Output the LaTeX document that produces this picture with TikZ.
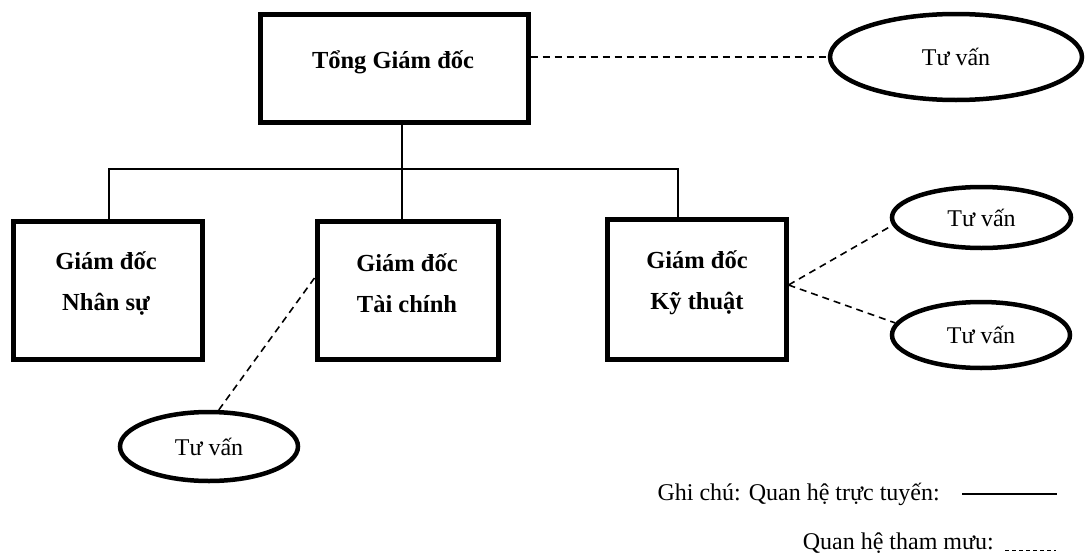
\documentclass[tikz,border=0pt]{standalone}
\usepackage{fontspec}
\setmainfont{Liberation Serif}
\usetikzlibrary{shapes.geometric,calc}

\tikzset{
  boxnode/.style={draw, line width=5pt, rectangle, inner sep=0pt},
  ovalnode/.style={draw, ellipse, line width=4.5pt, inner sep=0pt,
                   font=\fontsize{24}{29}\selectfont},
  headtext/.style={font=\fontsize{24.5}{41}\selectfont\bfseries, align=center, inner sep=0pt},
  plaintext/.style={font=\fontsize{24}{29}\selectfont, inner sep=0pt},
  direct/.style={line width=1.5pt},
  advisory/.style={line width=1.6pt, dash pattern=on 7pt off 5pt},
}

\begin{document}
\begin{tikzpicture}[x=1pt, y=-1pt]
  \useasboundingbox (0,0) rectangle (1085,557);

  % management boxes
  \node[boxnode, minimum width=268pt, minimum height=108pt] (tg) at (394,68) {};
  \node[headtext] (tgtext) at (393,62) {Tổng Giám đốc};

  \node[boxnode, minimum width=189pt, minimum height=138pt] (ns) at (107.5,290) {};
  \node[headtext] (nstext) at (106,283) {Giám đốc\\Nhân sự};

  \node[boxnode, minimum width=181pt, minimum height=138pt] (tc) at (407.5,290) {};
  \node[headtext] (tctext) at (407,283) {Giám đốc\\Tài chính};

  \node[boxnode, minimum width=179pt, minimum height=140pt] (kt) at (696.5,289) {};
  \node[headtext] (kttext) at (697,283) {Giám đốc\\Kỹ thuật};

  % advisory units
  \node[ovalnode, minimum width=252pt, minimum height=86pt] (tv1) at (956,57) {Tư vấn};
  \node[ovalnode, minimum width=179pt, minimum height=61pt] (tv2) at (981.5,217.5) {Tư vấn};
  \node[ovalnode, minimum width=178pt, minimum height=66pt] (tv3) at (981,335) {Tư vấn};
  \node[ovalnode, minimum width=178pt, minimum height=69pt] (tv4) at (209,446.5) {Tư vấn};

  % line relations
  \coordinate (trunk) at (402,169);
  \coordinate (busL) at (109,169);
  \coordinate (busR) at (678,169);
  \draw[direct] (tg.south -| trunk) -- (tc.north -| trunk);
  \draw[direct] (ns.north -| busL) -- (busL) -- (busR) -- (kt.north -| busR);

  % staff relations
  \draw[advisory] (tv1.west -| tg.east) -- (tv1.west);
  \draw[advisory] ($(kt.east)+(0,-4)$) -- (tv2.185);
  \draw[advisory] ($(kt.east)+(0,-4)$) -- (tv3.172);
  \draw[advisory] ($(tc.west)+(0,-12)$) -- (tv4.75);

  % legend
  \node[plaintext, anchor=base east] (lg1) at (940,500) {Ghi chú: Quan hệ trực tuyến:};
  \node[plaintext, anchor=base east] (lg2) at (994,549) {Quan hệ tham mưu:};
  \coordinate (s1) at (962,494);
  \coordinate (s2) at (1057,494);
  \coordinate (d1) at (1005,550);
  \coordinate (d2) at (1056,550);
  \draw[direct] (s1) -- (s2);
  \draw[line width=1pt, dash pattern=on 4pt off 3pt] (d1) -- (d2);
\end{tikzpicture}
\end{document}
